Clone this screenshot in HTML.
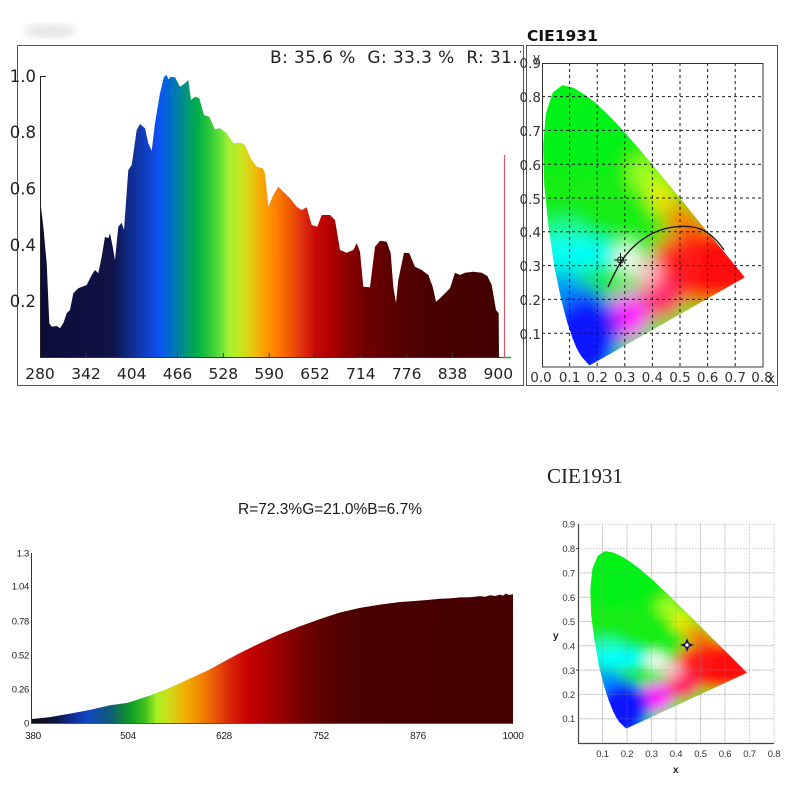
<!DOCTYPE html>
<html><head><meta charset="utf-8"><style>
html,body{margin:0;padding:0;background:#fff;}
svg{display:block;}
</style></head><body>
<svg width="800" height="800" viewBox="0 0 800 800" xmlns="http://www.w3.org/2000/svg">
<defs>
  <linearGradient id="specTop" gradientUnits="userSpaceOnUse" x1="40" y1="0" x2="499" y2="0">
    <stop offset="0" stop-color="#0c0e38"/>
    <stop offset="0.1525" stop-color="#0e1245"/>
    <stop offset="0.17" stop-color="#0f1a5a"/>
    <stop offset="0.1917" stop-color="#102a85"/>
    <stop offset="0.218" stop-color="#1038b0"/>
    <stop offset="0.244" stop-color="#1048d8"/>
    <stop offset="0.2614" stop-color="#0a55f5"/>
    <stop offset="0.279" stop-color="#0068d0"/>
    <stop offset="0.3007" stop-color="#0080a8"/>
    <stop offset="0.3224" stop-color="#009a70"/>
    <stop offset="0.344" stop-color="#00b048"/>
    <stop offset="0.37" stop-color="#30c838"/>
    <stop offset="0.392" stop-color="#60e038"/>
    <stop offset="0.41" stop-color="#a0f030"/>
    <stop offset="0.436" stop-color="#c8e820"/>
    <stop offset="0.462" stop-color="#e8c810"/>
    <stop offset="0.488" stop-color="#f8a000"/>
    <stop offset="0.514" stop-color="#ff8000"/>
    <stop offset="0.5447" stop-color="#f05800"/>
    <stop offset="0.571" stop-color="#e03010"/>
    <stop offset="0.601" stop-color="#c80808"/>
    <stop offset="0.632" stop-color="#b00000"/>
    <stop offset="0.664" stop-color="#900000"/>
    <stop offset="0.708" stop-color="#700000"/>
    <stop offset="0.7734" stop-color="#580000"/>
    <stop offset="0.85" stop-color="#4a0000"/>
    <stop offset="1" stop-color="#420000"/>
  </linearGradient>
  <linearGradient id="specBot" gradientUnits="userSpaceOnUse" x1="31" y1="0" x2="513" y2="0">
    <stop offset="0" stop-color="#0c0c18"/>
    <stop offset="0.05" stop-color="#0c1540"/>
    <stop offset="0.091" stop-color="#1030a0"/>
    <stop offset="0.118" stop-color="#1048c0"/>
    <stop offset="0.143" stop-color="#105098"/>
    <stop offset="0.168" stop-color="#106070"/>
    <stop offset="0.189" stop-color="#108040"/>
    <stop offset="0.21" stop-color="#10a020"/>
    <stop offset="0.2365" stop-color="#40c020"/>
    <stop offset="0.261" stop-color="#a8f020"/>
    <stop offset="0.288" stop-color="#d0d818"/>
    <stop offset="0.3195" stop-color="#f0b000"/>
    <stop offset="0.3506" stop-color="#f08800"/>
    <stop offset="0.3817" stop-color="#e85808"/>
    <stop offset="0.417" stop-color="#d82008"/>
    <stop offset="0.454" stop-color="#c40000"/>
    <stop offset="0.496" stop-color="#a80000"/>
    <stop offset="0.548" stop-color="#800000"/>
    <stop offset="0.6" stop-color="#600000"/>
    <stop offset="0.662" stop-color="#4c0000"/>
    <stop offset="0.766" stop-color="#480000"/>
    <stop offset="1" stop-color="#460000"/>
  </linearGradient>
  <clipPath id="locusClip">
    <path d="M174,5 L173,5 L169,7 L164,11 L157,18 L144,30 L136,40 L124,58 L110,87 L91,133 L69,201 L45,295 L24,413 L8,538 L4,655 L14,750 L39,812 L74,834 L114,826 L155,806 L193,782 L230,754 L266,724 L302,692 L373,625 L444,555 L513,487 L575,424 L627,373 L666,334 L692,308 L708,292 L719,281 L730,270 L735,265 Z"/>
  </clipPath>
  <filter id="blurG" x="-20%" y="-20%" width="140%" height="140%">
    <feGaussianBlur stdDeviation="30"/>
  </filter>
  <filter id="smudge"><feGaussianBlur stdDeviation="4"/></filter>
  <g id="gamut">
    <g clip-path="url(#locusClip)">
      <g filter="url(#blurG)">
        <rect x="-300" y="-300" width="1400" height="1500" fill="#14ee14"/>
        <ellipse cx="130" cy="720" rx="200" ry="150" fill="#00f218"/>
        <ellipse cx="370" cy="570" rx="55" ry="45" fill="#a8ff20"/>
        <ellipse cx="430" cy="505" rx="45" ry="40" fill="#ffee00"/>
        <ellipse cx="500" cy="445" rx="60" ry="40" fill="#ff8000"/>
        <ellipse cx="630" cy="300" rx="220" ry="120" fill="#ff0a0a"/>
        <ellipse cx="480" cy="310" rx="80" ry="80" fill="#ff1a1a"/>
        <ellipse cx="560" cy="400" rx="50" ry="30" fill="#ff3a00"/>
        <ellipse cx="430" cy="200" rx="80" ry="60" fill="#ff1a6a"/>
        <ellipse cx="310" cy="150" rx="75" ry="70" fill="#ff14ff"/>
        <ellipse cx="230" cy="110" rx="50" ry="70" fill="#8020ff"/>
        <ellipse cx="150" cy="90" rx="125" ry="145" fill="#0818ff"/>
        <ellipse cx="70" cy="235" rx="80" ry="42" fill="#0090ff"/>
        <ellipse cx="125" cy="335" rx="155" ry="48" fill="#00ffff"/>
        <ellipse cx="80" cy="400" rx="80" ry="30" fill="#20ffb0"/>
        <ellipse cx="385" cy="280" rx="48" ry="38" fill="#ffc0d0"/>
        <ellipse cx="310" cy="320" rx="45" ry="40" fill="#ffffff"/>
      </g>
    </g>
  </g>
  <clipPath id="textClip"><rect x="0" y="0" width="521" height="800"/></clipPath>
</defs>

<rect width="800" height="800" fill="#fff"/>
<ellipse cx="50" cy="31" rx="26" ry="7" fill="#e6e6e6" filter="url(#smudge)"/>

<!-- ================= TOP LEFT SPECTRUM ================= -->
<rect x="17.5" y="45.5" width="506" height="340" fill="none" stroke="#555" stroke-width="1"/>
<g clip-path="url(#textClip)">
<text x="270" y="63" font-family="DejaVu Sans, Liberation Sans, sans-serif" font-size="17" fill="#222" letter-spacing="0.4" xml:space="preserve">B: 35.6 %  G: 33.3 %  R: 31.1 %</text>
</g>
<path fill="url(#specTop)" d="M40,357 L40,115 L41,206.7 L43.3,226.7 L46.7,263.3 L49.3,323.3 L51.7,326.7 L56.7,326 L60,328.3 L63.3,323.3 L66.7,313.3 L70,310 L73.3,293.3 L78.3,288.3 L86.7,285 L91.7,275 L95,270 L98.3,273.3 L101.7,256.7 L105,236.7 L108.3,238.3 L110,233.3 L112.7,246.7 L115,260 L118.3,226.7 L121.7,222.7 L124,230 L128.3,170 L131.7,165 L136.7,130 L140,124 L145,128.3 L148.3,143.3 L151.7,150.7 L155,123.3 L160,93.3 L164,76.7 L166.7,75 L168.3,79.3 L170.7,76.7 L175,77.3 L180,86.7 L184,84 L188.3,80 L191,100 L195,96.7 L199.3,98.3 L204,115 L209.3,116.7 L215,129.3 L220,128.3 L226.7,133.3 L233.3,143.3 L240.7,142.7 L245,145 L250.7,158.3 L256.7,166.7 L262.7,168.3 L265,173.3 L268.3,206.7 L273.3,195 L278.3,186.7 L283.3,191.7 L290,198.3 L296.7,206.7 L301.7,210 L306.7,207.3 L311.7,225 L317.3,226.7 L321.7,215 L330,215 L335,220 L340,250 L346.7,252.7 L353.3,250 L356.7,243.3 L360,251.7 L363.3,286.7 L370,287.3 L375,246.7 L380,240.7 L386.7,241.7 L390.7,253.3 L393.3,286.7 L396,303.3 L398.3,280 L404,252.7 L409.3,253.3 L415,266.7 L421.7,270 L428.3,275 L432.7,286.7 L436,301.7 L440,298.3 L445,293.3 L450,288.3 L455,272.7 L460,275 L465,272.7 L473.3,271.7 L481.7,272.7 L487.3,276 L491.7,285 L496,310 L498.7,313.3 L499,357 Z"/>
<!-- axes -->
<line x1="40.5" y1="76" x2="40.5" y2="357" stroke="#222" stroke-width="1"/>
<line x1="40" y1="76.5" x2="46" y2="76.5" stroke="#222" stroke-width="1"/>
<line x1="40" y1="357.5" x2="511" y2="357.5" stroke="#333" stroke-width="1"/>
<line x1="503" y1="357.5" x2="511" y2="357.5" stroke="#3a9a3a" stroke-width="1.5"/>
<line x1="504.5" y1="155" x2="504.5" y2="357" stroke="#d05a6a" stroke-width="1.2"/>
<g stroke="#333" stroke-width="1">
  <line x1="86" y1="357" x2="86" y2="353"/><line x1="131.7" y1="357" x2="131.7" y2="353"/>
  <line x1="177.5" y1="357" x2="177.5" y2="353"/><line x1="223.3" y1="357" x2="223.3" y2="353"/>
  <line x1="269.2" y1="357" x2="269.2" y2="353"/><line x1="315" y1="357" x2="315" y2="353"/>
  <line x1="360.8" y1="357" x2="360.8" y2="353"/><line x1="406.7" y1="357" x2="406.7" y2="353"/>
  <line x1="452.5" y1="357" x2="452.5" y2="353"/>
</g>
<g font-family="DejaVu Sans, Liberation Sans, sans-serif" font-size="16.5" fill="#222" text-anchor="end">
  <text x="36" y="82">1.0</text>
  <text x="36" y="138">0.8</text>
  <text x="36" y="194.5">0.6</text>
  <text x="36" y="250.8">0.4</text>
  <text x="36" y="307">0.2</text>
</g>
<g font-family="DejaVu Sans, Liberation Sans, sans-serif" font-size="15.5" fill="#222" text-anchor="middle">
  <text x="40" y="379">280</text>
  <text x="86" y="379">342</text>
  <text x="131.7" y="379">404</text>
  <text x="177.5" y="379">466</text>
  <text x="223.3" y="379">528</text>
  <text x="269.2" y="379">590</text>
  <text x="315" y="379">652</text>
  <text x="360.8" y="379">714</text>
  <text x="406.7" y="379">776</text>
  <text x="452.5" y="379">838</text>
  <text x="498.3" y="379">900</text>
</g>

<!-- ================= TOP RIGHT CIE ================= -->
<text x="527" y="41" font-family="DejaVu Sans, Liberation Sans, sans-serif" font-size="15.5" font-weight="bold" fill="#111">CIE1931</text>
<rect x="526.5" y="45.5" width="251" height="340" fill="#fff" stroke="#555" stroke-width="1"/>
<use href="#gamut" transform="matrix(0.276,0,0,-0.338,542,367)"/>
<!-- planckian curve -->
<path d="M608,287 C612,278 616,270 622,260 C632,246 648,232 668,228 C685,225 698,226 708,233 C715,238 720,244 724,250" fill="none" stroke="#111" stroke-width="1.3"/>
<g stroke="#111" stroke-width="1" fill="none">
  <line x1="614" y1="260" x2="627" y2="260"/>
  <line x1="620.5" y1="253" x2="620.5" y2="267"/>
  <circle cx="620.5" cy="260" r="3"/>
</g>
<!-- dashed grid -->
<g stroke="#1a1a1a" stroke-width="1" stroke-dasharray="3,3">
  <line x1="569.6" y1="63" x2="569.6" y2="367"/>
  <line x1="597.2" y1="63" x2="597.2" y2="367"/>
  <line x1="624.8" y1="63" x2="624.8" y2="367"/>
  <line x1="652.4" y1="63" x2="652.4" y2="367"/>
  <line x1="680" y1="63" x2="680" y2="367"/>
  <line x1="707.6" y1="63" x2="707.6" y2="367"/>
  <line x1="735.2" y1="63" x2="735.2" y2="367"/>
  <line x1="542" y1="333.2" x2="763" y2="333.2"/>
  <line x1="542" y1="299.4" x2="763" y2="299.4"/>
  <line x1="542" y1="265.6" x2="763" y2="265.6"/>
  <line x1="542" y1="231.8" x2="763" y2="231.8"/>
  <line x1="542" y1="198" x2="763" y2="198"/>
  <line x1="542" y1="164.2" x2="763" y2="164.2"/>
  <line x1="542" y1="130.4" x2="763" y2="130.4"/>
  <line x1="542" y1="96.6" x2="763" y2="96.6"/>
</g>
<rect x="542.5" y="63.5" width="220.5" height="303.5" fill="none" stroke="#333" stroke-width="1"/>
<g font-family="DejaVu Sans, Liberation Sans, sans-serif" font-size="13.5" fill="#333" text-anchor="end">
  <text x="541" y="68">0.9</text>
  <text x="541" y="102">0.8</text>
  <text x="541" y="136">0.7</text>
  <text x="541" y="170">0.6</text>
  <text x="541" y="204">0.5</text>
  <text x="541" y="237">0.4</text>
  <text x="541" y="271">0.3</text>
  <text x="541" y="305">0.2</text>
  <text x="541" y="339">0.1</text>
</g>
<text x="533" y="62" font-family="DejaVu Sans, Liberation Sans, sans-serif" font-size="12" fill="#333">y</text>
<g font-family="DejaVu Sans, Liberation Sans, sans-serif" font-size="13.5" fill="#333" text-anchor="middle">
  <text x="541" y="382">0.0</text>
  <text x="569.6" y="382">0.1</text>
  <text x="597.2" y="382">0.2</text>
  <text x="624.8" y="382">0.3</text>
  <text x="652.4" y="382">0.4</text>
  <text x="680" y="382">0.5</text>
  <text x="707.6" y="382">0.6</text>
  <text x="735.2" y="382">0.7</text>
  <text x="762" y="382">0.8</text>
  <text x="771" y="383">x</text>
</g>

<!-- ================= BOTTOM LEFT SPECTRUM ================= -->
<text x="238" y="514" font-family="Liberation Sans, sans-serif" font-size="15.5" fill="#1a1a1a">R=72.3%G=21.0%B=6.7%</text>
<path fill="url(#specBot)" d="M31,723 L31,719.1 L50,717.1 L70,713.6 L90,709.9 L110,705.3 L128,702.7 L150,695.5 L170,687.7 L190,678.5 L210,669.4 L224,661.5 L240,653 L260,643.2 L280,634.1 L300,626.2 L322,618.4 L340,612.5 L360,607.9 L380,604.6 L400,602 L418,600.7 L430,599.8 L440,598.7 L450,598.4 L460,597.4 L470,597.2 L480,596.1 L485,596.8 L490,595.2 L495,596 L500,594.6 L503,595.6 L506,593.5 L509,595 L513,594.2 L513,723 Z"/>
<line x1="31.5" y1="553" x2="31.5" y2="723" stroke="#333" stroke-width="1"/>
<line x1="31" y1="723.5" x2="513" y2="723.5" stroke="#555" stroke-width="1"/>
<g font-family="Liberation Sans, sans-serif" font-size="9.5" fill="#222" text-anchor="end" letter-spacing="-0.3">
  <text x="29" y="556.5">1.3</text>
  <text x="29" y="589.5">1.04</text>
  <text x="29" y="624.5">0.78</text>
  <text x="29" y="658.5">0.52</text>
  <text x="29" y="692.5">0.26</text>
  <text x="29" y="726.5">0</text>
</g>
<g font-family="Liberation Sans, sans-serif" font-size="10" fill="#222" text-anchor="middle" letter-spacing="-0.3">
  <text x="33" y="739">380</text>
  <text x="128" y="739">504</text>
  <text x="224" y="739">628</text>
  <text x="321" y="739">752</text>
  <text x="418" y="739">876</text>
  <text x="513" y="739">1000</text>
</g>

<!-- ================= BOTTOM RIGHT CIE ================= -->
<text x="547" y="483" font-family="Liberation Serif, serif" font-size="21" fill="#222">CIE1931</text>
<g stroke="#c8c8c8" stroke-width="1" stroke-dasharray="1.5,1.5">
  <line x1="602.5" y1="524" x2="602.5" y2="743"/>
  <line x1="627" y1="524" x2="627" y2="743"/>
  <line x1="651.5" y1="524" x2="651.5" y2="743"/>
  <line x1="676" y1="524" x2="676" y2="743"/>
  <line x1="700.5" y1="524" x2="700.5" y2="743"/>
  <line x1="725" y1="524" x2="725" y2="743"/>
  <line x1="749.5" y1="524" x2="749.5" y2="743"/>
  <line x1="774" y1="524" x2="774" y2="743"/>
  <line x1="578" y1="718.7" x2="774" y2="718.7"/>
  <line x1="578" y1="694.4" x2="774" y2="694.4"/>
  <line x1="578" y1="670.1" x2="774" y2="670.1"/>
  <line x1="578" y1="645.8" x2="774" y2="645.8"/>
  <line x1="578" y1="621.5" x2="774" y2="621.5"/>
  <line x1="578" y1="597.2" x2="774" y2="597.2"/>
  <line x1="578" y1="572.9" x2="774" y2="572.9"/>
  <line x1="578" y1="548.6" x2="774" y2="548.6"/>
  <line x1="578" y1="524.3" x2="774" y2="524.3"/>
</g>
<use href="#gamut" transform="matrix(0.2145,0,0,-0.214,589.4,729.5)"/>
<g stroke="rgba(140,140,140,0.22)" stroke-width="1">
  <line x1="602.5" y1="524" x2="602.5" y2="743"/>
  <line x1="627" y1="524" x2="627" y2="743"/>
  <line x1="651.5" y1="524" x2="651.5" y2="743"/>
  <line x1="676" y1="524" x2="676" y2="743"/>
  <line x1="700.5" y1="524" x2="700.5" y2="743"/>
  <line x1="725" y1="524" x2="725" y2="743"/>
  <line x1="578" y1="718.7" x2="774" y2="718.7"/>
  <line x1="578" y1="694.4" x2="774" y2="694.4"/>
  <line x1="578" y1="670.1" x2="774" y2="670.1"/>
  <line x1="578" y1="645.8" x2="774" y2="645.8"/>
  <line x1="578" y1="621.5" x2="774" y2="621.5"/>
  <line x1="578" y1="597.2" x2="774" y2="597.2"/>
  <line x1="578" y1="572.9" x2="774" y2="572.9"/>
</g>
<line x1="578.5" y1="524" x2="578.5" y2="743" stroke="#444" stroke-width="1.2"/>
<line x1="578" y1="743.5" x2="774" y2="743.5" stroke="#444" stroke-width="1.2"/>
<g stroke="#444" stroke-width="1">
  <line x1="576" y1="548.6" x2="579" y2="548.6"/>
  <line x1="576" y1="670.1" x2="579" y2="670.1"/>
</g>
<!-- marker -->
<path d="M687,638 L689,643 L694,645 L689,647 L687,652 L685,647 L680,645 L685,643 Z" fill="#2a1850"/>
<circle cx="687" cy="645" r="1.6" fill="#fff"/>
<g font-family="Liberation Sans, sans-serif" font-size="9.5" fill="#333" text-anchor="end" letter-spacing="-0.2">
  <text x="575" y="527.5">0.9</text>
  <text x="575" y="552">0.8</text>
  <text x="575" y="576.5">0.7</text>
  <text x="575" y="601">0.6</text>
  <text x="575" y="625">0.5</text>
  <text x="575" y="649.5">0.4</text>
  <text x="575" y="674">0.3</text>
  <text x="575" y="698">0.2</text>
  <text x="575" y="722">0.1</text>
</g>
<g font-family="Liberation Sans, sans-serif" font-size="9.5" fill="#333" text-anchor="middle" letter-spacing="-0.2">
  <text x="602.5" y="757">0.1</text>
  <text x="627" y="757">0.2</text>
  <text x="651.5" y="757">0.3</text>
  <text x="676" y="757">0.4</text>
  <text x="700.5" y="757">0.5</text>
  <text x="725" y="757">0.6</text>
  <text x="749.5" y="757">0.7</text>
  <text x="774" y="757">0.8</text>
</g>
<text x="553" y="639" font-family="Liberation Sans, sans-serif" font-size="10" font-weight="bold" fill="#222">y</text>
<text x="673" y="773" font-family="Liberation Sans, sans-serif" font-size="10" font-weight="bold" fill="#222">x</text>
</svg>
</body></html>
